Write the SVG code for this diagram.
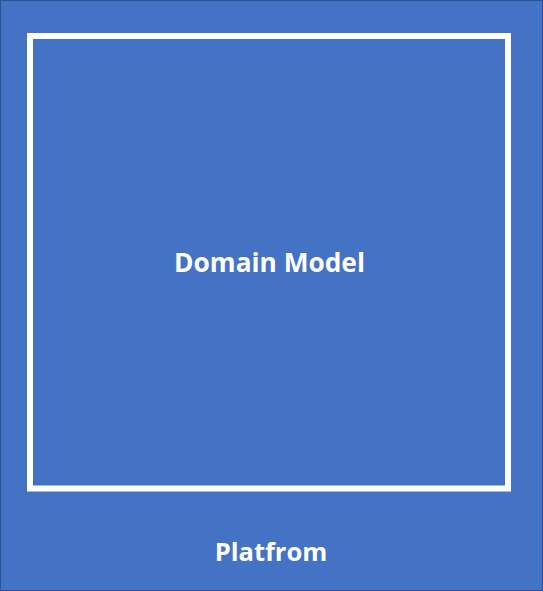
<svg xmlns="http://www.w3.org/2000/svg" width="543" height="591" viewBox="0 0 543 591">
<style>
.lbl{font-family:"Open Sans","Noto Sans","Liberation Sans",sans-serif;font-weight:bold;fill:#FFFFFF;text-anchor:middle}
</style>
<g id="platform">
<rect x="0.5" y="0.5" width="542" height="590" fill="#4472C4" stroke="#2F528F" stroke-width="1"/>
<text class="lbl" x="271" y="561" font-size="25.5">Platfrom</text>
</g>
<g id="domain-model">
<rect x="30" y="36" width="478" height="452.5" fill="#4472C4" stroke="#FFFFFF" stroke-width="6"/>
<text class="lbl" x="269.5" y="272" font-size="26.3">Domain Model</text>
</g>
<g id="connectors"/>
</svg>
